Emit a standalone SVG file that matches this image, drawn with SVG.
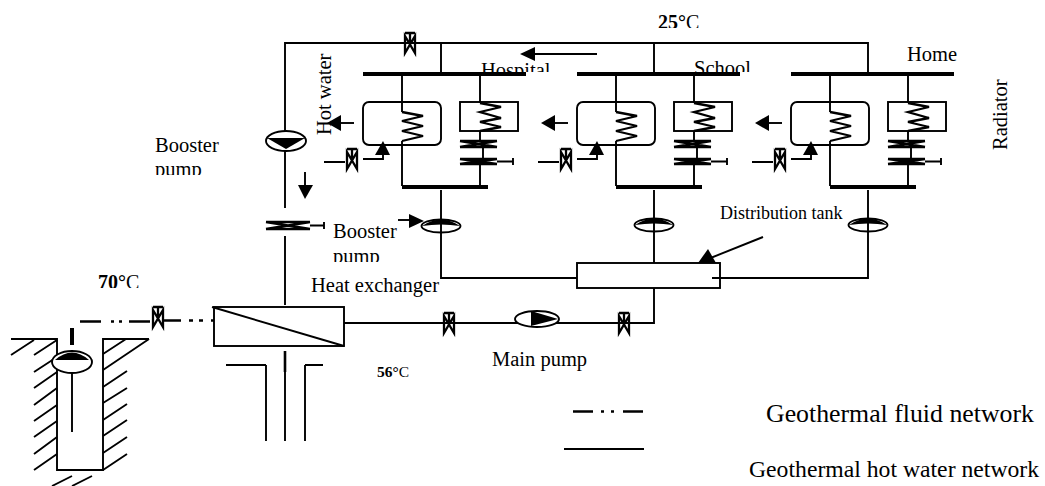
<svg xmlns="http://www.w3.org/2000/svg" xmlns:xlink="http://www.w3.org/1999/xlink" width="1045" height="486" viewBox="0 0 1045 486">
<style>
.l{fill:none;stroke:#000;stroke-width:1.9}
.c{fill:none;stroke:#000;stroke-width:2.3}
.b{fill:none;stroke:#000;stroke-width:4}
.d{fill:none;stroke:#000;stroke-width:2.6}
.k{fill:#000;stroke:none}
.w{fill:#fff;stroke:#000;stroke-width:1.9}
text{font-family:"Liberation Serif","Times New Roman",serif;fill:#000}
.t{font-size:20.5px}
.t18{font-size:18px}
.t20{font-size:20px}
.t15{font-size:15.500px}
.big{font-size:25.800px}
.big2{font-size:23.700px}
.bold{font-weight:bold}
</style>
<defs>
<clipPath id="c-hospital"><rect x="470" y="50" width="100" height="22"/></clipPath>
<clipPath id="c-school"><rect x="685" y="50" width="100" height="22"/></clipPath>
<clipPath id="c-pump1"><rect x="150" y="160" width="80" height="15"/></clipPath>
<clipPath id="c-pump2"><rect x="325" y="246" width="80" height="16"/></clipPath>
<clipPath id="c-25"><rect x="650" y="10" width="80" height="18"/></clipPath>
<clipPath id="c-70"><rect x="90" y="270" width="60" height="18"/></clipPath>
<g id="valve-v">
<path class="c" d="M-5 -14H5M0 -14V-5M-5 -11L5 6V-11L-5 6Z"/>
</g>
<g id="unit">
<path class="b" d="M0 0H163M39 113H125"/>
<path class="l" d="M39 0V38M39 67V112M117 0V29M117 57V66M117 90V113M120 74V84"/>
<rect class="l" x="0" y="28" width="78" height="43" rx="6"/>
<path class="c" d="M39 38L60 42L39 47L60 52L39 57L60 62L39 67"/>
<rect class="l" x="97" y="28" width="58" height="29"/>
<path class="c" d="M117 29L138 33L117 38L138 44L117 48L138 53L117 57"/>
<path class="d" d="M97 67H134M97 73H134M97 73L134 67M97 67L134 73M97 85H134M97 90H134M97 90L134 85M97 85L134 90"/>
<path class="l" d="M134 87.500H150M150 84V91"/>
<path class="l" d="M-39 88H-18M0 85H20V81"/>
<use xlink:href="#valve-v" x="-11" y="89"/>
<path class="k" d="M20 67L27 81H12Z"/>
<path class="l" d="M-9 49H-29"/>
<path class="k" d="M-36 49L-22 41V57Z"/>
</g>
<g id="pump-cap">
<ellipse class="l" cx="0" cy="0" rx="19.500" ry="6.500"/>
<path class="k" d="M-19 0Q0 -13 19 0Q0 -3 -19 0Z"/>
</g>
</defs>

<g id="connectors">
<path class="l" d="M285 132V43H868V74M441 43V74M654 43V74"/>
<path class="l" d="M285 150V208M285 236V305"/>
<path class="d" d="M285 351V372"/>
<path class="l" d="M285 372V441M266 365H226M266 365V441M305 365H323M305 365V441"/>
<path class="l" d="M441 190V278H577M654 190V263M868 190V278H712M654 288V323H344"/>
<path class="d" d="M80 321.500H101M111 321.500H114M119 321.500H122M129 321.500H150M163 320.500H181"/>
<path class="d" d="M189 320.500H193M199 320.500H203M211 320.500H214"/>
<path class="b" d="M72 328V345"/>
<path class="l" d="M72 373V432"/>
<path class="l" d="M525 54H597"/>
<path class="k" d="M520 54L535 47V61Z"/>
<path class="l" d="M305 172V186"/>
<path class="k" d="M305 199L298 185H313Z"/>
<path class="l" d="M398 220H412"/>
<path class="k" d="M424 221L409 214V228Z"/>
<path class="l" d="M763 237L708 259"/>
<path class="k" d="M698 263L708 249L716 263Z"/>
</g>

<g id="well">
<path class="l" d="M11 339H57V470H103V339H149"/>
<path class="l" d="M11 355L34 340M34 355L57 340M34 372L57 357M34 388L57 372M34 405L57 388M34 421L57 405M34 437L57 421M34 454L57 437M34 470L57 454M103 354L126 339M103 370L149 339M103 387L127 371M103 403L127 388M103 420L127 404M103 436L127 420M103 453L127 437M103 470L127 454M52 486L72 476M72 486L92 476"/>
</g>

<g id="pump-well">
<ellipse class="w" cx="72" cy="362" rx="20" ry="11"/>
<path class="k" d="M55 360Q72 345 89 360Z"/>
</g>
<g id="pump-booster-main">
<ellipse class="w" cx="286" cy="141" rx="20" ry="10"/>
<path class="k" d="M267 138H305L286 149Z"/>
</g>
<g id="valve-riser">
<path class="d" d="M266 222H310M266 229H310M266 229L310 222M266 222L310 229"/>
<path class="l" d="M310 225.500H324M324 222V229"/>
</g>
<g id="valve-top"><use xlink:href="#valve-v" x="410" y="47"/></g>

<g id="unit-hospital"><use xlink:href="#unit" x="363" y="74"/></g>
<g id="unit-school"><use xlink:href="#unit" x="577" y="74"/></g>
<g id="unit-home"><use xlink:href="#unit" x="791" y="74"/></g>

<g id="pump-hospital"><use xlink:href="#pump-cap" x="441" y="226"/></g>
<g id="pump-school"><use xlink:href="#pump-cap" x="654" y="225"/></g>
<g id="pump-home"><use xlink:href="#pump-cap" x="868" y="225"/></g>

<g id="distribution-tank"><rect class="l" x="577" y="263" width="143" height="25"/></g>
<g id="heat-exchanger">
<rect class="l" x="214" y="307" width="130" height="39"/>
<path class="l" d="M212 307L344 346"/>
</g>
<g id="valve-well"><use xlink:href="#valve-v" x="158" y="321"/></g>
<g id="valve-main-1"><use xlink:href="#valve-v" x="449" y="327"/></g>
<g id="valve-main-2"><use xlink:href="#valve-v" x="624" y="327"/></g>
<g id="main-pump">
<ellipse class="w" cx="537" cy="319" rx="22" ry="8"/>
<path class="k" d="M531 311L558 319L531 326Z"/>
</g>
<g id="legend">
<path class="d" d="M573 411.500H593M601 411.500H604M611 411.500H614M623 411.500H643"/>
<path class="l" d="M564 449H644"/>
</g>

<g id="labels">
<text class="t20 bold" x="658" y="28.500" clip-path="url(#c-25)">25°<tspan font-weight="normal">C</tspan></text>
<text class="t20 bold" x="98" y="288.500" clip-path="url(#c-70)">70°<tspan font-weight="normal">C</tspan></text>
<text class="t15 bold" x="377" y="377">56°<tspan font-weight="normal">C</tspan></text>
<text class="t" x="481" y="77" clip-path="url(#c-hospital)">Hospital</text>
<text class="t" x="694" y="75" clip-path="url(#c-school)">School</text>
<text class="t" x="907" y="61">Home</text>
<text class="t" transform="translate(331 135) rotate(-90)">Hot water</text>
<text class="t" transform="translate(1007 150) rotate(-90)">Radiator</text>
<text class="t" x="155" y="152">Booster</text>
<text class="t" x="155" y="176" clip-path="url(#c-pump1)">pump</text>
<text class="t" x="333" y="238">Booster</text>
<text class="t" x="333" y="263" clip-path="url(#c-pump2)">pump</text>
<text class="t" x="311" y="292">Heat exchanger</text>
<text class="t18" x="720" y="219">Distribution tank</text>
<text class="t" x="492" y="366">Main pump</text>
<text class="big" x="766" y="422">Geothermal fluid network</text>
<text class="big2" x="749" y="477">Geothermal hot water network</text>
</g>
</svg>
